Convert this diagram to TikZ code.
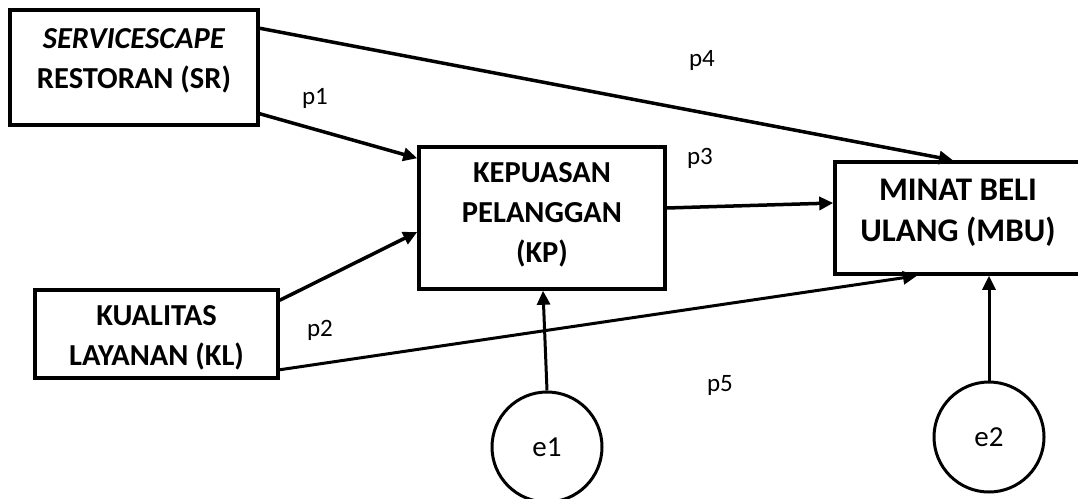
\documentclass[tikz,border=0pt]{standalone}
\usepackage{fontspec}
\setmainfont{Carlito}
\usetikzlibrary{arrows.meta}
\begin{document}
\begin{tikzpicture}[x=1pt,y=-1pt,
  box/.style={draw, line width=3.5pt, rectangle, inner sep=0pt},
  boxtext/.style={font=\bfseries\fontsize{30.5}{40}\selectfont, align=center, inner sep=0pt},
  bigtext/.style={font=\bfseries\fontsize{33}{41}\selectfont, align=center, inner sep=0pt},
  plabel/.style={font=\fontsize{25}{30}\selectfont, inner sep=0pt},
  errc/.style={draw, circle, line width=3pt, inner sep=0pt, font=\fontsize{29}{34}\selectfont},
  arr/.style={line width=3.5pt, -{Triangle[length=14pt,width=13pt]}},
  thinarr/.style={line width=3pt, -{Triangle[length=14pt,width=13pt]}}
]
\useasboundingbox (0,0) rectangle (1078,498);
\clip (0,0) rectangle (1078,498);
% boxes
\node[box, minimum width=248pt, minimum height=115pt] (sr) at (134,67.5) {};
\node[boxtext] (srt) at (134,61) {\textit{SERVICESCAPE}\\RESTORAN (SR)};
\node[box, minimum width=246pt, minimum height=142pt] (kp) at (542,218) {};
\node[boxtext] (kpt) at (542,215) {KEPUASAN\\PELANGGAN\\(KP)};
\node[box, minimum width=246pt, minimum height=112pt] (mbu) at (958,218) {};
\node[bigtext] (mbut) at (958,212.5) {MINAT BELI\\ULANG (MBU)};
\node[box, minimum width=243pt, minimum height=88pt] (kl) at (156.5,334) {};
\node[boxtext] (klt) at (156.5,337.5) {KUALITAS\\LAYANAN (KL)};
% error terms
\node[errc, minimum size=110pt] (e1) at (547,447) {e1};
\node[errc, minimum size=110pt] (e2) at (989,437) {e2};
% connectors
\draw[arr] ([yshift=-20pt]sr.north east) -- ([xshift=-5pt]mbu.north);
\draw[arr] ([yshift=13pt]sr.south east) -- ([yshift=-13pt]kp.north west);
\draw[arr] ([yshift=-12pt]kl.north east) -- ([yshift=-14pt]kp.west);
\draw[arr] ([yshift=10pt]kp.east) -- ([yshift=15pt]mbu.west);
\draw[thinarr] ([yshift=10pt]kl.south east) -- ([xshift=-41pt]mbu.south);
\draw[thinarr] (e1.north) -- ([xshift=1pt]kp.south);
\draw[thinarr] (e2.north) -- ([xshift=31pt]mbu.south);
% labels
\node[plabel] (p1) at (315,98) {p1};
\node[plabel] (p2) at (320,330) {p2};
\node[plabel] (p3) at (700,158) {p3};
\node[plabel] (p4) at (702,60) {p4};
\node[plabel] (p5) at (720,385) {p5};
\end{tikzpicture}
\end{document}
